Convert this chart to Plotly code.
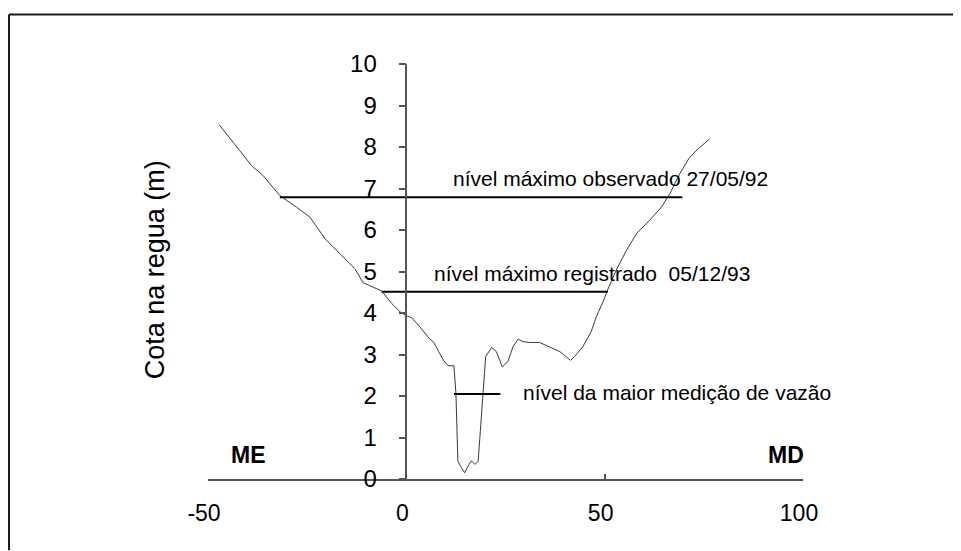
import plotly.graph_objects as go

# Perfil transversal (distância em m, cota na régua em m)
dist_perfil = [-47.2, -43.6, -39.0, -36.1, -31.9, -27.7, -24.3, -20.5, -16.8, -13.0,
               -10.9, -6.2, -3.7, -1.6, 0.0, 1.3, 3.4, 5.9, 6.8, 9.3,
               10.5, 12.0, 12.5, 13.0, 13.9, 14.7, 15.8, 16.4, 17.3, 18.1,
               18.5, 19.3, 20.0, 21.5, 22.7, 24.2, 25.6, 26.9, 28.2, 29.4,
               31.1, 33.6, 36.1, 38.7, 41.4, 42.4, 44.5, 46.6, 47.9, 49.6,
               50.8, 52.9, 55.5, 58.0, 61.3, 64.3, 66.4, 68.9, 71.4, 73.5, 76.4]
cota_perfil = [8.54, 8.11, 7.55, 7.31, 6.83, 6.55, 6.31, 5.79, 5.43, 5.07,
               4.73, 4.53, 4.23, 4.03, 3.93, 3.89, 3.67, 3.37, 3.31, 2.87,
               2.73, 2.73, 2.07, 0.43, 0.27, 0.15, 0.35, 0.44, 0.35, 0.43,
               0.95, 2.07, 2.95, 3.17, 3.07, 2.70, 2.83, 3.19, 3.37, 3.31,
               3.29, 3.29, 3.19, 3.07, 2.86, 2.95, 3.19, 3.55, 3.91, 4.27,
               4.57, 5.03, 5.51, 5.91, 6.23, 6.55, 6.87, 7.35, 7.75, 7.95, 8.19]

# Níveis de referência
nivel_textos = ["nível máximo observado 27/05/92",
                "nível máximo registrado\u00a0 05/12/93",
                "nível da maior medição de vazão"]
nivel_cota = [6.79, 4.51, 2.05]
nivel_ini = [-31.9, -6.2, 12.0]
nivel_fim = [69.6, 50.8, 23.7]
texto_x = [11.2, 6.4, 28.8]
texto_y = [7.23, 4.95, 2.08]

x_ticks = [-50, 0, 50, 100]
y_ticks = list(range(0, 11))
margens = ["ME", "MD"]
margens_x = [-39.7, 95.8]
margens_y = [0.59, 0.59]

FONT = "Liberation Sans, Arial, sans-serif"

fig = go.Figure()
fig.add_trace(go.Scatter(x=dist_perfil, y=cota_perfil, mode="lines",
                         line=dict(color="#3a3a3a", width=1), showlegend=False,
                         hoverinfo="skip"))
for i in range(len(nivel_cota)):
    fig.add_trace(go.Scatter(x=[nivel_ini[i], nivel_fim[i]],
                             y=[nivel_cota[i], nivel_cota[i]], mode="lines",
                             line=dict(color="#000000", width=2), showlegend=False,
                             hoverinfo="skip"))

annotations = []
for t, x, y in zip(nivel_textos, texto_x, texto_y):
    annotations.append(dict(x=x, y=y, xref="x", yref="y", text=t, showarrow=False,
                            xanchor="left", yanchor="middle",
                            font=dict(family=FONT, size=21, color="#000")))
for t, x, y in zip(margens, margens_x, margens_y):
    annotations.append(dict(x=x, y=y, xref="x", yref="y", text="<b>%s</b>" % t,
                            showarrow=False, xanchor="center", yanchor="middle",
                            font=dict(family=FONT, size=23, color="#000")))
annotations.append(dict(x=-0.089, y=0.503, xref="paper", yref="paper",
                        text="Cota na regua (m)", textangle=-90, showarrow=False,
                        xanchor="center", yanchor="middle",
                        font=dict(family=FONT, size=27, color="#000")))

# page has an 8px body margin: figure is sized to fit the window
W, H = 953, 543
L, T = 200, 55.5
pw, ph = 595, 416
R, B = W - L - pw, H - T - ph
def px(xp):
    return (xp - L) / pw
def py(yp):
    return (H - B - yp) / ph

shapes = [
    dict(type="line", xref="paper", yref="paper", x0=px(1), x1=px(1), y0=py(H), y1=py(6),
         line=dict(color="#1a1a1a", width=2)),
    dict(type="line", xref="paper", yref="paper", x0=px(1), x1=px(W), y0=py(6), y1=py(6),
         line=dict(color="#1a1a1a", width=2)),
]

fig.update_layout(
    width=W, height=H,
    margin=dict(l=L, r=R, t=T, b=B, pad=0),
    paper_bgcolor="white", plot_bgcolor="white",
    font=dict(family=FONT, color="#000"),
    annotations=annotations, shapes=shapes,
    xaxis=dict(range=[-50, 100], tickvals=x_ticks, ticktext=[str(v) for v in x_ticks],
               showgrid=False, zeroline=False, showline=True, linecolor="#555",
               linewidth=1.5, ticks="inside", ticklen=5, tickcolor="#555", tickwidth=1.5,
               tickfont=dict(family=FONT, size=23, color="#000"),
               ticklabelstandoff=13, ticklabelshift=-4, fixedrange=True),
    yaxis=dict(range=[0, 10], tickvals=y_ticks, anchor="free", position=50 / 150,
               showgrid=False, zeroline=False, showline=True, linecolor="#555",
               linewidth=1.5, ticks="outside", ticklen=7, tickcolor="#555", tickwidth=1.5,
               tickfont=dict(family=FONT, size=24, color="#000"),
               ticklabelstandoff=17, fixedrange=True),
)

fig.write_html("out.html")
